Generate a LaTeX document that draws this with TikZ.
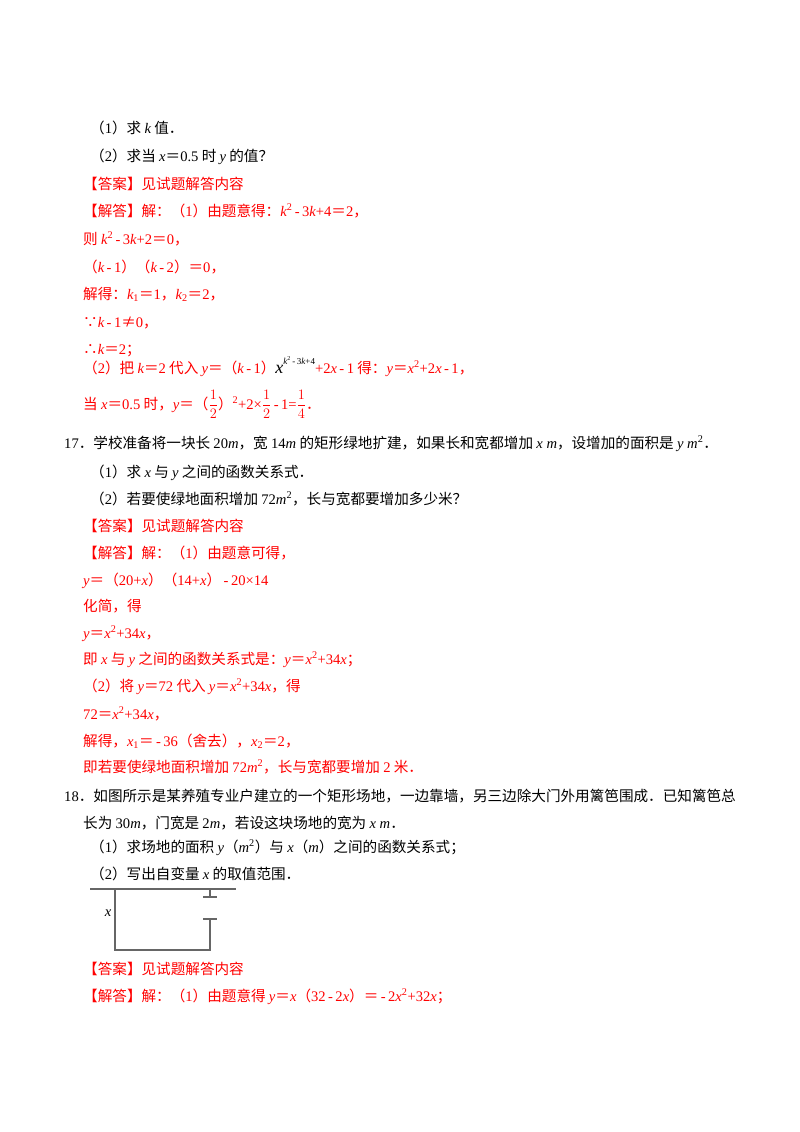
\documentclass[tikz,border=0pt]{standalone}
\usepackage{fontspec}
\setmainfont{Noto Sans CJK SC}
\newfontfamily\lsf{Liberation Serif}
\usepackage{tikz}
\definecolor{answer red}{rgb}{1, 0, 0}
\newcommand\m[1]{{\lsf #1}}
\newcommand\vi[1]{{\lsf\itshape #1}}
\newcommand\mn{{\lsf\,-\,}}
\newcommand\half[1]{$\displaystyle\frac{1}{#1}$}
\tikzset{
	line/.style={anchor=base west, inner sep=0pt, font=\fontsize{14.6}{16}\selectfont},
	red line/.style={line, text=answer red},
	fence/.style={draw=black!60, line width=1.2pt}
}

\begin{document}
\begin{tikzpicture}[x=1pt, y=-1pt]
	\useasboundingbox (0, 0) rectangle (800, 1132);
	% problem 16, second half
	\node[line] (q1) at (90, 133) {（\m{1}）求 \vi{k} 值．};
	\node[line] (q2) at (90, 161) {（\m{2}）求当 \vi{x}＝\m{0.5} 时 \vi{y} 的值？};
	\node[red line] (ans16) at (83, 189) {【答案】见试题解答内容};
	\node[red line] (sol16) at (83, 216) {【解答】解：（\m{1}）由题意得：\vi{k}\m{\textsuperscript{2}}\mn\m{3}\vi{k}\m{+4}＝\m{2}，};
	\node[red line] (s16a) at (83, 244) {则 \vi{k}\m{\textsuperscript{2}}\mn\m{3}\vi{k}\m{+2}＝\m{0}，};
	\node[red line] (s16b) at (83, 272) {（\vi{k}\mn\m{1}）（\vi{k}\mn\m{2}）＝\m{0}，};
	\node[red line] (s16c) at (83, 299) {解得：\vi{k}\m{\textsubscript{1}}＝\m{1}，\vi{k}\m{\textsubscript{2}}＝\m{2}，};
	\node[red line] (s16d) at (83, 327) {∵\vi{k}\mn\m{1}≠\m{0}，};
	\node[red line] (s16e) at (83, 354) {∴\vi{k}＝\m{2}；};
	\node[red line] (s16f) at (83, 373) {（\m{2}）把 \vi{k}＝\m{2} 代入 \vi{y}＝（\vi{k}\mn\m{1}）\textcolor{black}{{\fontsize{18}{18}\selectfont\vi{x}}\raisebox{1.1ex}{\fontsize{9}{10}\selectfont\vi{k}\m{\textsuperscript{2}}\mn\m{3}\vi{k}\m{+4}}}\m{+2}\vi{x}\mn\m{1} 得：\vi{y}＝\vi{x}\m{\textsuperscript{2}+2}\vi{x}\mn\m{1}，};
	\node[red line] (s16g) at (83, 409) {当 \vi{x}＝\m{0.5} 时，\vi{y}＝（\half{2}）\m{\textsuperscript{2}+2×}\half{2}\mn\m{1=}\half{4}．};
	% problem 17
	\node[line] (p17) at (64, 448) {\m{17}．学校准备将一块长 \m{20}\vi{m}，宽 \m{14}\vi{m} 的矩形绿地扩建，如果长和宽都增加 \vi{x m}，设增加的面积是 \vi{y m}\m{\textsuperscript{2}}．};
	\node[line] (q171) at (90, 477) {（\m{1}）求 \vi{x} 与 \vi{y} 之间的函数关系式．};
	\node[line] (q172) at (90, 504) {（\m{2}）若要使绿地面积增加 \m{72}\vi{m}\m{\textsuperscript{2}}，长与宽都要增加多少米？};
	\node[red line] (ans17) at (83, 531) {【答案】见试题解答内容};
	\node[red line] (sol17) at (83, 558) {【解答】解：（\m{1}）由题意可得，};
	\node[red line] (s17a) at (83, 585) {\vi{y}＝（\m{20+}\vi{x}）（\m{14+}\vi{x}）\mn\m{20×14}};
	\node[red line] (s17b) at (83, 611) {化简，得};
	\node[red line] (s17c) at (83, 638) {\vi{y}＝\vi{x}\m{\textsuperscript{2}+34}\vi{x}，};
	\node[red line] (s17d) at (83, 664) {即 \vi{x} 与 \vi{y} 之间的函数关系式是：\vi{y}＝\vi{x}\m{\textsuperscript{2}+34}\vi{x}；};
	\node[red line] (s17e) at (83, 691) {（\m{2}）将 \vi{y}＝\m{72} 代入 \vi{y}＝\vi{x}\m{\textsuperscript{2}+34}\vi{x}，得};
	\node[red line] (s17f) at (83, 719) {\m{72}＝\vi{x}\m{\textsuperscript{2}+34}\vi{x}，};
	\node[red line] (s17g) at (83, 746) {解得，\vi{x}\m{\textsubscript{1}}＝\mn\m{36}（舍去），\vi{x}\m{\textsubscript{2}}＝\m{2}，};
	\node[red line] (s17h) at (83, 772) {即若要使绿地面积增加 \m{72}\vi{m}\m{\textsuperscript{2}}，长与宽都要增加 \m{2} 米．};
	% problem 18
	\node[line] (p18) at (64, 801) {\m{18}．如图所示是某养殖专业户建立的一个矩形场地，一边靠墙，另三边除大门外用篱笆围成．已知篱笆总};
	\node[line] (p18b) at (83, 828) {长为 \m{30}\vi{m}，门宽是 \m{2}\vi{m}，若设这块场地的宽为 \vi{x m}．};
	\node[line] (q181) at (90, 852) {（\m{1}）求场地的面积 \vi{y}（\vi{m}\m{\textsuperscript{2}}）与 \vi{x}（\vi{m}）之间的函数关系式；};
	\node[line] (q182) at (90, 879) {（\m{2}）写出自变量 \vi{x} 的取值范围．};
	% the field
	\draw[fence] (90, 889) -- (236, 889);
	\draw[fence] (115, 889) -- (115, 950) -- (210, 950) -- (210, 919);
	\draw[fence] (203, 919) -- (217, 919);
	\draw[fence] (210, 889) -- (210, 897) (203, 897) -- (217, 897);
	\node[line, anchor=center] (xlab) at (108, 913) {\vi{x}};
	\node[red line] (ans18) at (83, 974) {【答案】见试题解答内容};
	\node[red line] (sol18) at (83, 1001) {【解答】解：（\m{1}）由题意得 \vi{y}＝\vi{x}（\m{32}\mn\m{2}\vi{x}）＝\mn\m{2}\vi{x}\m{\textsuperscript{2}+32}\vi{x}；};
\end{tikzpicture}
\end{document}
